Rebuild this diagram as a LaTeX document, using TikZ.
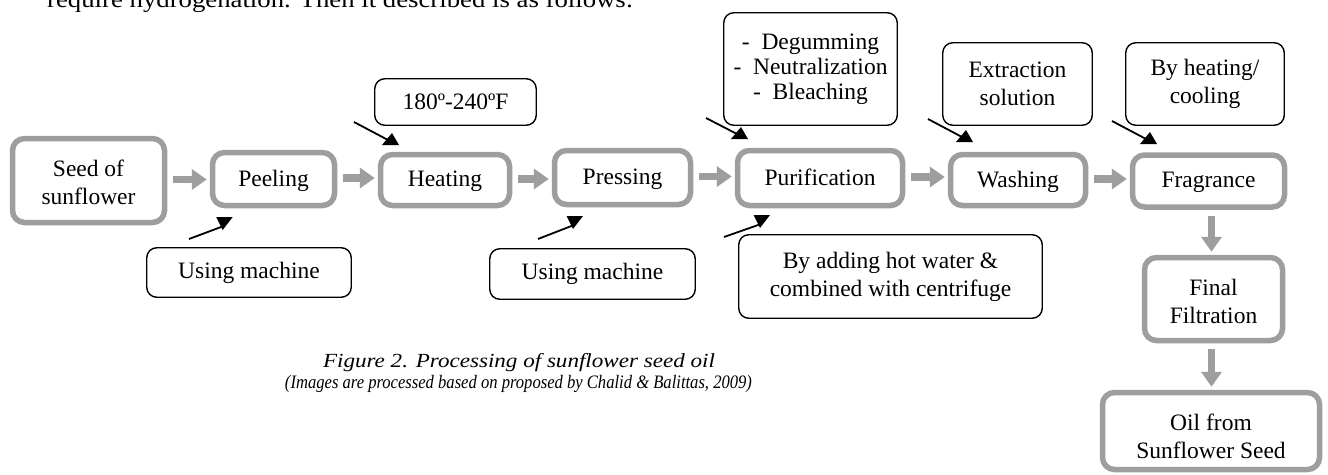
\documentclass[tikz,border=0pt]{standalone}
\usepackage{fontspec}
\usepackage{graphicx}
\setmainfont{Liberation Serif}
\usetikzlibrary{arrows.meta,calc}
\definecolor{bgray}{RGB}{158,158,158}
\newcommand\twol[3]{\raisebox{#1}[\height][\depth]{\begin{tabular}{@{}c@{}}#2\\#3\end{tabular}}}
\newcommand\uptri[1]{\fill (#1) -- ++(-10,12) -- ++(17,0) -- cycle;}
\newcommand\downtri[1]{\fill (#1) -- ++(-6.5,-13) -- ++(16.5,0) -- cycle;}
\begin{document}
\begin{tikzpicture}[x=1pt,y=-1pt,
 gbox/.style={draw=bgray,line width=5.5pt,rounded corners=12pt,align=center,inner sep=0pt,font=\fontsize{23.5}{28.5}\selectfont},
 gone/.style={gbox,text depth=2pt},
 nbox/.style={draw=black,line width=1.4pt,rounded corners=10pt,align=center,inner sep=0pt,font=\fontsize{23.5}{28}\selectfont},
 garrow/.style={draw=bgray,line width=7.5pt,-{Triangle[length=15pt,width=20pt]}},
 cline/.style={draw=black,line width=1.8pt},
]
\useasboundingbox (0,0) rectangle (1328,474);
\clip (0,0) rectangle (1328,474);
\fill[white] (0,0) rectangle (1328,474);

% top running text (cut off)
\node[anchor=base west,inner sep=0pt] (toptext) at (47,7)
  {\resizebox{586pt}{\height}{\fontsize{23.5}{28}\selectfont require hydrogenation. Then it described is as follows:}};

% main process boxes
\node[gbox,minimum width=152pt,minimum height=84pt] (seed) at (88.5,180.5) {\twol{-4.5pt}{Seed of}{sunflower}};
\node[gone,minimum width=122pt,minimum height=53pt] (peel) at (273.5,179) {Peeling};
\node[gone,minimum width=129pt,minimum height=51pt] (heat) at (445,180) {Heating};
\node[gone,minimum width=136pt,minimum height=54pt] (press) at (622.5,177.5) {Pressing};
\node[gone,minimum width=165pt,minimum height=55pt] (purif) at (820,178) {Purification};
\node[gone,minimum width=135pt,minimum height=51pt] (wash) at (1018,180) {Washing};
\node[gone,minimum width=152pt,minimum height=52pt] (frag) at (1208.5,181) {Fragrance};
\node[gbox,minimum width=138pt,minimum height=83pt] (filt) at (1213.5,299) {\twol{-5pt}{Final}{Filtration}};
\node[gbox,minimum width=217pt,minimum height=77pt] (oil) at (1211,431) {\twol{-8pt}{Oil from}{Sunflower Seed}};

% note boxes
\node[nbox,minimum width=161.5pt,minimum height=46.5pt] (nTemp) at (455.5,102) {180º-240ºF};
\node[nbox,minimum width=173.5pt,minimum height=112.5pt,font=\fontsize{23.5}{25}\selectfont] (nDegum) at (810.5,69) {- \ Degumming\\- \ Neutralization\\- \ Bleaching};
\node[nbox,minimum width=149.5pt,minimum height=82.5pt] (nExtr) at (1017.5,84) {Extraction\\solution};
\node[nbox,minimum width=158.5pt,minimum height=82.5pt] (nCool) at (1205,84) {By heating/\\cooling};
\node[nbox,minimum width=204.5pt,minimum height=49.5pt] (nUse1) at (249,272.5) {Using machine};
\node[nbox,minimum width=205.5pt,minimum height=50.5pt] (nUse2) at (592.5,274) {Using machine};
\node[nbox,minimum width=303.5pt,minimum height=83.5pt] (nAdd) at (890.5,276.5) {By adding hot water \&\\combined with centrifuge};

% grey flow arrows
\foreach \a/\b in {seed/peel,peel/heat,heat/press,press/purif,purif/wash,wash/frag}{
  \draw[garrow] ($(\a.east)+(6,-1)$) -- ($(\a.east -| \b.west)+(-3,-1)$);
}
\draw[garrow] ($(frag.south -| filt.north)+(-2,6)$) -- ($(filt.north)+(-2,-3)$);
\draw[garrow] ($(filt.south)+(-2,6)$) -- ($(oil.north -| filt.south)+(-2,-3)$);

% black call-out arrows
\coordinate (a1s) at (189,239); \coordinate (a1t) at (222.7,230);
\coordinate (a2s) at (354,122); \coordinate (a2t) at (392,133);
\coordinate (a3s) at (538,239); \coordinate (a3t) at (573,229);
\coordinate (a4s) at (706,118); \coordinate (a4t) at (741,127);
\coordinate (a5s) at (724,237); \coordinate (a5t) at (760,228);
\coordinate (a6s) at (928,119); \coordinate (a6t) at (966,130);
\coordinate (a7s) at (1112,121); \coordinate (a7t) at (1150,132);
\foreach \i in {1,3,5}{
  \draw[cline] (a\i s) -- ($(a\i t)+(1,-4)$);
  \downtri{a\i t}
}
\foreach \i in {2,4,6,7}{
  \draw[cline] (a\i s) -- ($(a\i t)+(-4,7)$);
  \uptri{a\i t}
}

% caption
\node[anchor=base,inner sep=0pt] (cap1) at (519,367)
  {\resizebox{392pt}{\height}{\fontsize{20}{22}\selectfont\itshape Figure 2. Processing of sunflower seed oil}};
\node[anchor=base,inner sep=0pt] (cap2) at (518.5,388)
  {\resizebox{467pt}{\height}{\fontsize{19}{21}\selectfont\itshape (Images are processed based on proposed by Chalid \& Balittas, 2009)}};
\end{tikzpicture}
\end{document}
